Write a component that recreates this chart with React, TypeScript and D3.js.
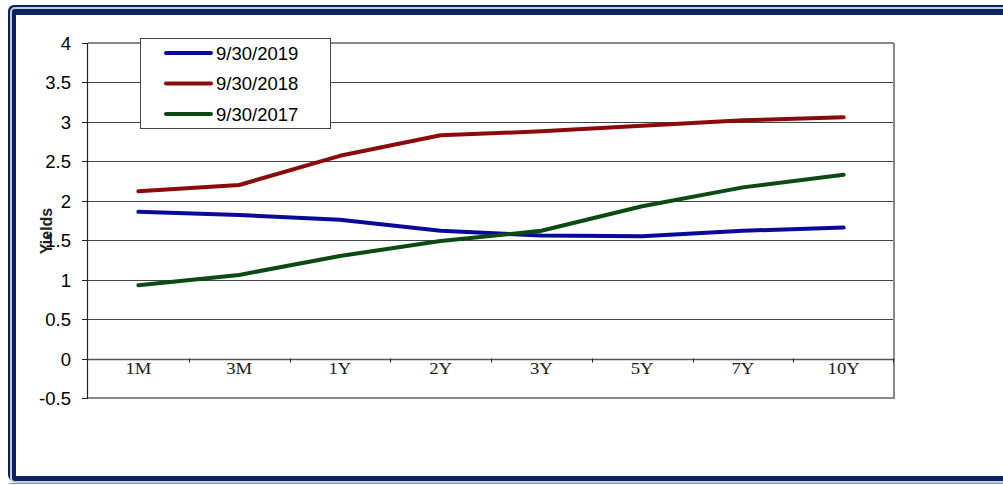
import React, { useEffect, useRef } from "react";
import * as d3 from "d3";

const categories = ["1M", "3M", "1Y", "2Y", "3Y", "5Y", "7Y", "10Y"];
const yTicks = [-0.5, 0, 0.5, 1, 1.5, 2, 2.5, 3, 3.5, 4];
const series2019 = [1.86, 1.82, 1.76, 1.62, 1.56, 1.55, 1.62, 1.66];
const series2018 = [2.12, 2.2, 2.57, 2.83, 2.88, 2.95, 3.02, 3.06];
const series2017 = [0.93, 1.06, 1.3, 1.49, 1.62, 1.93, 2.17, 2.33];
const seriesNames = ["9/30/2019", "9/30/2018", "9/30/2017"];
const seriesColors = ["#0a0a9a", "#8c0a0a", "#0b4a12"];

export default function App() {
  const ref = useRef<SVGSVGElement>(null);
  useEffect(() => {
    const svg = d3.select(ref.current);
    svg.selectAll("*").remove();

    // frame
    svg.append("rect").attr("x", 8).attr("y", 5).attr("width", 1010).attr("height", 476).attr("rx", 6).attr("fill", "#0b2461");
    svg.append("rect").attr("x", 11).attr("y", 8).attr("width", 1010).attr("height", 474).attr("rx", 4)
      .attr("fill", "none").attr("stroke", "#c3cad8").attr("stroke-width", 2);
    svg.append("line").attr("x1", 9).attr("x2", 1003).attr("y1", 483.5).attr("y2", 483.5).attr("stroke", "#8a93a8").attr("stroke-width", 1);
    svg.append("rect").attr("x", 16).attr("y", 15).attr("width", 1000).attr("height", 461).attr("fill", "#ffffff");

    const left = 88, right = 894;
    const x = d3.scaleBand().domain(categories).range([left, right]);
    const y = d3.scaleLinear().domain([-0.5, 4]).range([398, 43]);

    const g = svg.append("g");
    // gridlines
    yTicks.filter(t => t >= 0).forEach(t => {
      g.append("line").attr("x1", left).attr("x2", right).attr("y1", Math.round(y(t)) + 0.5).attr("y2", Math.round(y(t)) + 0.5)
        .attr("stroke", t === 0 ? "#555" : "#444").attr("stroke-width", t === 0 ? 1.5 : 1);
    });
    // plot border (right, bottom)
    g.append("line").attr("x1", right).attr("x2", right).attr("y1", y(4)).attr("y2", y(-0.5) + 1).attr("stroke", "#888").attr("stroke-width", 2);
    g.append("line").attr("x1", left).attr("x2", right).attr("y1", y(-0.5)).attr("y2", y(-0.5)).attr("stroke", "#888").attr("stroke-width", 2);
    g.append("line").attr("x1", left).attr("x2", right).attr("y1", y(4)).attr("y2", y(4)).attr("stroke", "#888").attr("stroke-width", 2);
    // y axis
    g.append("line").attr("x1", left - 0.5).attr("x2", left - 0.5).attr("y1", y(4)).attr("y2", y(-0.5)).attr("stroke", "#222").attr("stroke-width", 1.2);
    yTicks.forEach(t => {
      const yy = Math.round(y(t)) + 0.5;
      g.append("line").attr("x1", left - 6).attr("x2", left).attr("y1", yy).attr("y2", yy).attr("stroke", "#222");
      g.append("text").attr("x", 71).attr("y", yy).attr("dy", "0.36em").attr("text-anchor", "end")
        .attr("font-family", "Liberation Sans, Arial, sans-serif").attr("font-size", 18.5).attr("fill", "#000").text(String(t));
    });
    // x ticks
    categories.forEach((c, i) => {
      if (i > 0) {
        const xx = Math.round(x(c)!) + 0.5;
        g.append("line").attr("x1", xx).attr("x2", xx).attr("y1", y(0)).attr("y2", y(0) + 4).attr("stroke", "#222");
      }
      const cx = x(c)! + x.bandwidth() / 2;
      g.append("text").attr("transform", `translate(${cx},374) scale(1.1,1)`).attr("text-anchor", "middle")
        .attr("font-family", "Liberation Serif, Times New Roman, serif").attr("font-size", 17).attr("fill", "#222").text(c);
    });
    g.append("line").attr("x1", right - 0.5).attr("x2", right - 0.5).attr("y1", y(0)).attr("y2", y(0) + 4).attr("stroke", "#222");

    // y label
    g.append("text").attr("transform", "translate(52,231) rotate(-90)").attr("text-anchor", "middle")
      .attr("font-family", "Liberation Sans, Arial, sans-serif").attr("font-size", 16).attr("font-weight", "bold").attr("fill", "#222").text("Yields");

    // lines
    const all = [series2019, series2018, series2017];
    const line = d3.line<number>().x((_, i) => x(categories[i])! + x.bandwidth() / 2).y(v => y(v));
    all.forEach((s, i) => {
      g.append("path").attr("d", line(s)!).attr("fill", "none").attr("stroke", seriesColors[i])
        .attr("stroke-width", 4).attr("stroke-linecap", "round").attr("stroke-linejoin", "round");
    });

    // legend
    const lg = svg.append("g");
    lg.append("rect").attr("x", 140.5).attr("y", 38.5).attr("width", 190).attr("height", 90).attr("fill", "#fff").attr("stroke", "#444").attr("stroke-width", 1);
    seriesNames.forEach((n, i) => {
      const yy = 53 + i * 30.5;
      lg.append("line").attr("x1", 166).attr("x2", 211).attr("y1", yy).attr("y2", yy).attr("stroke", seriesColors[i]).attr("stroke-width", 4).attr("stroke-linecap", "round");
      lg.append("text").attr("x", 216).attr("y", yy).attr("dy", "0.36em").attr("font-family", "Liberation Sans, Arial, sans-serif")
        .attr("font-size", 18.5).attr("fill", "#000").text(n);
    });
  }, []);
  return (
    <svg ref={ref} width={1003} height={485} style={{ position: "absolute", left: 0, top: 0, display: "block" }} />
  );
}
